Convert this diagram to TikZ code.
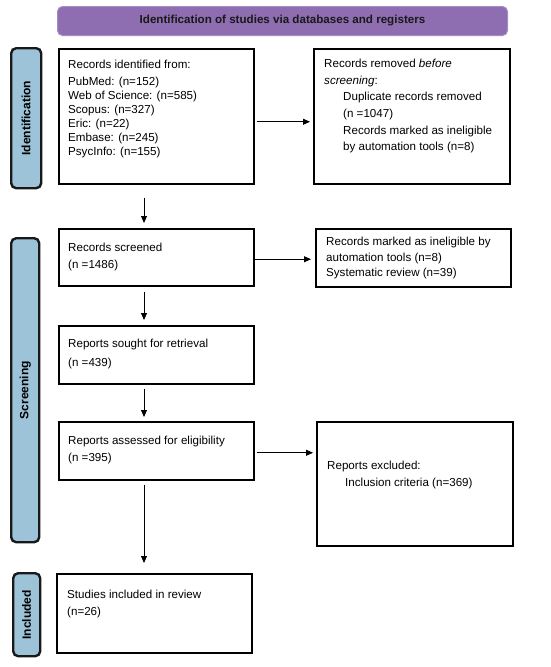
\documentclass[tikz,border=0pt]{standalone}
\usepackage{fontspec}
\setmainfont{Liberation Sans}
\usetikzlibrary{arrows.meta}
\definecolor{hdrpurple}{HTML}{8E6DB1}
\definecolor{hdrborder}{HTML}{A58CC4}
\definecolor{sideblue}{HTML}{9DC3D9}
\begin{document}
\begin{tikzpicture}[x=1pt,y=-1pt,
  box/.style={draw=black,line width=1.5pt,inner sep=0pt,anchor=north west},
  txt/.style={anchor=north west,inner sep=0pt,align=left,font=\fontsize{11.6}{16.6}\selectfont},
  side/.style={draw=black!90,line width=2.4pt,rounded corners=5pt,fill=sideblue,anchor=north west,inner sep=0pt},
  sidetxt/.style={rotate=90,font=\fontsize{12}{14}\selectfont\bfseries,inner sep=0pt},
  arr/.style={-{Triangle[length=7pt,width=6pt]},line width=0.8pt},
]
\useasboundingbox (0,0) rectangle (550,667);

% header
\node[anchor=north west,draw=hdrborder,line width=1pt,fill=hdrpurple,rounded corners=5pt,
      minimum width=450pt,minimum height=29pt,inner sep=0pt] (hdr) at (57,6) {};
\node[font=\fontsize{11.6}{14}\selectfont\bfseries,text=black!90] (hdrtxt) at (hdr.center) {Identification of studies via databases and registers};

% side labels
\node[side,minimum width=30pt,minimum height=140pt] (sid) at (10,47) {};
\node[sidetxt] (sidtxt) at (sid.center) {Identification};
\node[side,minimum width=28pt,minimum height=304pt] (sscr) at (10,237) {};
\node[sidetxt] (sscrtxt) at (sscr.center) {Screening};
\node[side,minimum width=27pt,minimum height=83pt] (sinc) at (12,572) {};
\node[sidetxt] (sinctxt) at (sinc.center) {Included};

% boxes
\node[box,minimum width=195pt,minimum height=135pt] (b1) at (58,48) {};
\node[txt,font=\fontsize{11.6}{14.1}\selectfont] (t1) at (68,60) {Records identified from:\\[2.6pt]
PubMed: (n=152)\\
Web of Science: (n=585)\\
Scopus: (n=327)\\
Eric: (n=22)\\
Embase: (n=245)\\
PsycInfo: (n=155)};

\node[box,minimum width=196pt,minimum height=135pt] (b2) at (313,48) {};
\node[txt] (t2) at (324,59) {Records removed \textit{before}\\
\textit{screening}:\\
\hspace*{19pt}Duplicate records removed\\
\hspace*{19pt}(n =1047)\\
\hspace*{19pt}Records marked as ineligible\\
\hspace*{19pt}by automation tools (n=8)};

\node[box,minimum width=195pt,minimum height=57pt] (b3) at (58,228) {};
\node[txt] (t3) at (68,243) {Records screened\\(n =1486)};

\node[box,minimum width=195pt,minimum height=58pt] (b4) at (315,228) {};
\node[txt,font=\fontsize{11.6}{15.6}\selectfont] (t4) at (326,237) {Records marked as ineligible by\\
automation tools (n=8)\\
Systematic review (n=39)};

\node[box,minimum width=195pt,minimum height=58pt] (b5) at (58,325) {};
\node[txt,font=\fontsize{11.6}{19.3}\selectfont] (t5) at (68,339) {Reports sought for retrieval\\(n =439)};

\node[box,minimum width=195pt,minimum height=58pt] (b6) at (58,421) {};
\node[txt,font=\fontsize{11.6}{17.2}\selectfont] (t6) at (68,436) {Reports assessed for eligibility\\(n =395)};

\node[box,minimum width=196pt,minimum height=124pt] (b7) at (316,421) {};
\node[txt] (t7) at (327,461) {Reports excluded:\\
\hspace*{18pt}Inclusion criteria (n=369)};

\node[box,minimum width=195pt,minimum height=79pt] (b8) at (56,573) {};
\node[txt,font=\fontsize{11.6}{17.2}\selectfont] (t8) at (67,590) {Studies included in review\\(n=26)};

% connectors
\coordinate (cx) at (144,0);
\draw[arr,shorten <=13pt,shorten >=5pt] (b1.south -| cx) -- (b3.north -| cx);
\draw[arr,shorten <=5pt,shorten >=5pt] (b3.south -| cx) -- (b5.north -| cx);
\draw[arr,shorten <=4pt,shorten >=4pt] (b5.south -| cx) -- (b6.north -| cx);
\draw[arr,shorten <=4pt,shorten >=10pt] (b6.south -| cx) -- (b8.north -| cx);

\draw[arr,shorten <=2pt,shorten >=3pt] ([yshift=-5.5pt]b1.east) -- ([yshift=-5.5pt]b1.east -| b2.west);
\draw[arr,shorten >=4pt] ([yshift=-2pt]b3.east) -- ([yshift=-2pt]b3.east -| b4.west);
\draw[arr,shorten <=2pt,shorten >=3pt] ([yshift=-2pt]b6.east) -- ([yshift=-2pt]b6.east -| b7.west);
\end{tikzpicture}
\end{document}
